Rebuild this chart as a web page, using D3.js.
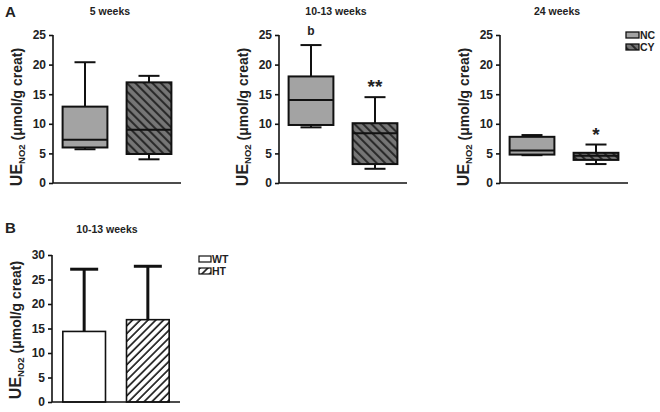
<!DOCTYPE html>
<html>
<head>
<meta charset="utf-8">
<script src="https://cdn.jsdelivr.net/npm/d3@7"></script>
<style>
  body { margin: 0; background: #fff; }
  svg text { font-family: "Liberation Sans", Arial, sans-serif; font-weight: bold; fill: #222; }
</style>
</head>
<body>
<svg id="chart" width="660" height="412"></svg>
<script>
// panel A: box plots, stats = [min, q1, median, q3, max]
const groupsA = ["NC", "CY"];
const titlesA = ["5 weeks", "10-13 weeks", "24 weeks"];
const ncStats = [[5.7, 6.0, 7.3, 12.9, 20.4], [9.4, 9.8, 14.0, 18.0, 23.3], [4.7, 4.8, 5.5, 7.8, 8.1]];
const cyStats = [[4.0, 4.9, 9.0, 17.0, 18.1], [2.4, 3.2, 8.4, 10.1, 14.5], [3.2, 3.9, 4.6, 5.1, 6.5]];
const marksA = [["", ""], ["b", "**"], ["", "*"]];
const ticksA = [0, 5, 10, 15, 20, 25];

// panel B: bars with upward SD
const groupsB = ["WT", "HT"];
const meansB = [14.4, 16.8];
const sdB = [12.7, 10.9];
const ticksB = [0, 5, 10, 15, 20, 25, 30];

const svg = d3.select("#chart");
const defs = svg.append("defs");

// dark hatch for CY
const pCY = defs.append("pattern").attr("id", "hatchCY")
    .attr("patternUnits", "userSpaceOnUse").attr("width", 6).attr("height", 6)
    .attr("patternTransform", "rotate(-45)");
pCY.append("rect").attr("width", 6).attr("height", 6).attr("fill", "#767676");
pCY.append("line").attr("x1", 1).attr("x2", 1).attr("y1", 0).attr("y2", 6)
    .attr("stroke", "#2a2a2a").attr("stroke-width", 2.2);

// light hatch for HT
const pHT = defs.append("pattern").attr("id", "hatchHT")
    .attr("patternUnits", "userSpaceOnUse").attr("width", 5.5).attr("height", 5.5)
    .attr("patternTransform", "rotate(45)");
pHT.append("rect").attr("width", 5.5).attr("height", 5.5).attr("fill", "#fff");
pHT.append("line").attr("x1", 1).attr("x2", 1).attr("y1", 0).attr("y2", 5.5)
    .attr("stroke", "#000").attr("stroke-width", 1.5);

const fillA = {NC: "#a3a3a3", CY: "url(#hatchCY)"};
const fillB = {WT: "#fff", HT: "url(#hatchHT)"};

function yLabel(g, x, y) {
    const t = g.append("text")
        .attr("transform", "translate(" + x + "," + y + ") rotate(-90)")
        .attr("text-anchor", "middle")
        .style("font-size", "14px");
    t.append("tspan").text("UE").style("font-size", "16px");
    t.append("tspan").text("NO2").style("font-size", "9.5px").attr("dy", 3);
    t.append("tspan").text(" (\u03bcmol/g creat)").attr("dy", -3);
}

function drawAxes(g, x0, x1, y, ticks) {
    const yAxis = g.append("g")
        .attr("transform", "translate(" + x0 + ",0)")
        .call(d3.axisLeft(y).tickValues(ticks).tickSize(4).tickPadding(3));
    yAxis.selectAll("text").style("font-size", "12px");
    yAxis.selectAll("line, path").attr("stroke", "#111").attr("stroke-width", 1.6);
    yAxis.select(".domain").attr("d", "M0," + y.range()[0] + "V" + y.range()[1]);

    g.append("line")
        .attr("x1", x0).attr("x2", x1)
        .attr("y1", y.range()[0]).attr("y2", y.range()[0])
        .attr("stroke", "#111").attr("stroke-width", 1.6);
}

// ---------- panel A ----------
const leftsA = [53, 279, 500];
const wA = 128;
const yA = d3.scaleLinear().domain([0, 25]).range([183, 35]);

titlesA.forEach((title, i) => {
    const g = svg.append("g");
    const x = d3.scaleBand().domain(groupsA)
        .range([leftsA[i], leftsA[i] + wA])
        .paddingInner(0.3).paddingOuter(0.15);

    drawAxes(g, leftsA[i], leftsA[i] + wA, yA, ticksA);
    yLabel(g, leftsA[i] - 31, 117);

    g.append("text")
        .attr("x", leftsA[i] + 57).attr("y", 15)
        .attr("text-anchor", "middle")
        .style("font-size", "10.5px")
        .text(title);

    const stats = [ncStats[i], cyStats[i]];
    groupsA.forEach((grp, j) => {
        const s = stats[j];
        const bx = x(grp), bw = x.bandwidth(), cx = bx + bw / 2;
        const cap = 21;
        const box = g.append("g").attr("stroke", "#111").attr("stroke-width", 2);
        // whiskers
        box.append("line").attr("x1", cx).attr("x2", cx).attr("y1", yA(s[4])).attr("y2", yA(s[3]));
        box.append("line").attr("x1", cx).attr("x2", cx).attr("y1", yA(s[1])).attr("y2", yA(s[0]));
        box.append("line").attr("x1", cx - cap / 2).attr("x2", cx + cap / 2).attr("y1", yA(s[4])).attr("y2", yA(s[4]));
        box.append("line").attr("x1", cx - cap / 2).attr("x2", cx + cap / 2).attr("y1", yA(s[0])).attr("y2", yA(s[0]));
        // box
        box.append("rect")
            .attr("x", bx).attr("width", bw)
            .attr("y", yA(s[3])).attr("height", yA(s[1]) - yA(s[3]))
            .attr("fill", fillA[grp]);
        box.append("line").attr("x1", bx).attr("x2", bx + bw).attr("y1", yA(s[2])).attr("y2", yA(s[2]));

        const mark = marksA[i][j];
        if (mark) {
            const star = mark.indexOf("*") >= 0;
            g.append("text")
                .attr("x", cx).attr("y", star ? yA(s[4]) - 4 : yA(s[4]) - 10)
                .attr("text-anchor", "middle")
                .style("font-size", star ? "19px" : "12px")
                .text(mark);
        }
    });
});

// legend A
groupsA.forEach((grp, j) => {
    const ly = 32 + j * 12;
    svg.append("rect").attr("x", 626).attr("y", ly).attr("width", 13).attr("height", 6)
        .attr("fill", fillA[grp]).attr("stroke", "#111").attr("stroke-width", 1.3);
    svg.append("text").attr("x", 640).attr("y", ly + 7).style("font-size", "10.5px").text(grp);
});

svg.append("text").attr("x", 5).attr("y", 17).style("font-size", "15px").text("A");

// ---------- panel B ----------
const leftB = 52, wB = 128;
const yB = d3.scaleLinear().domain([0, 30]).range([402, 255]);
const xB = d3.scaleBand().domain(groupsB).range([leftB, leftB + wB])
    .paddingInner(0.33).paddingOuter(0.17);
const gB = svg.append("g");

groupsB.forEach((grp, j) => {
    const bx = xB(grp), bw = xB.bandwidth(), cx = bx + bw / 2;
    const top = yB(meansB[j] + sdB[j]);
    gB.append("line").attr("x1", cx).attr("x2", cx)
        .attr("y1", yB(meansB[j])).attr("y2", top)
        .attr("stroke", "#111").attr("stroke-width", 3);
    gB.append("line").attr("x1", cx - 14).attr("x2", cx + 14)
        .attr("y1", top).attr("y2", top)
        .attr("stroke", "#111").attr("stroke-width", 3);
    gB.append("rect")
        .attr("x", bx).attr("width", bw)
        .attr("y", yB(meansB[j])).attr("height", yB(0) - yB(meansB[j]))
        .attr("fill", fillB[grp]).attr("stroke", "#111").attr("stroke-width", 1.6);
});

drawAxes(gB, leftB, leftB + wB, yB, ticksB);
yLabel(gB, 21, 330);

gB.append("text").attr("x", 107).attr("y", 233).attr("text-anchor", "middle")
    .style("font-size", "10.5px").text("10-13 weeks");
svg.append("text").attr("x", 5).attr("y", 233).style("font-size", "15px").text("B");

groupsB.forEach((grp, j) => {
    const ly = 256 + j * 12;
    svg.append("rect").attr("x", 199).attr("y", ly).attr("width", 12).attr("height", 6)
        .attr("fill", fillB[grp]).attr("stroke", "#111").attr("stroke-width", 1.2);
    svg.append("text").attr("x", 212).attr("y", ly + 7).style("font-size", "10.5px").text(grp);
});
</script>
</body>
</html>
